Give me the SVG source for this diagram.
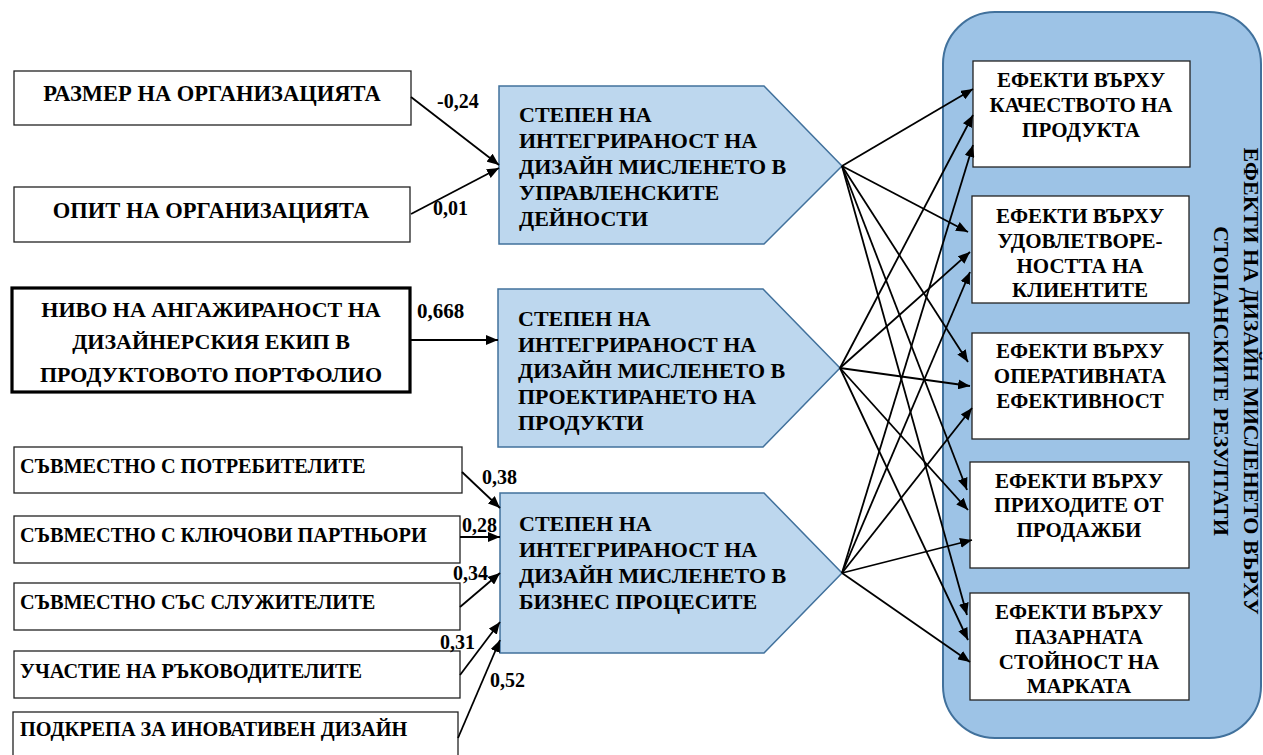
<svg xmlns="http://www.w3.org/2000/svg" width="1263" height="755" viewBox="0 0 1263 755">
<defs>
<marker id="ah" markerUnits="userSpaceOnUse" markerWidth="13" markerHeight="10" refX="12" refY="5" orient="auto">
<path d="M0,0 L12,5 L0,10 z" fill="#000"/>
</marker>
<style>
text{font-family:'Liberation Serif',serif;font-weight:bold;fill:#000}
.box{fill:#fff;stroke:#222;stroke-width:1.3}
.pent{fill:#BDD7EE;stroke:#41719C;stroke-width:1.5}
.c{stroke:#000;stroke-width:1.8;fill:none;marker-end:url(#ah)}
.lt{font-size:22.5px}
.nt{font-size:22px}
.bt{font-size:20.3px}
.pt{font-size:22px}
.rt{font-size:21px;text-anchor:middle}
.lab{font-size:20px}
.mid{text-anchor:middle}
</style>
</defs>
<rect width="1263" height="755" fill="#fff"/>
<g id="results-group">
<rect x="943" y="12" width="318" height="726" rx="52" fill="#9DC3E6" stroke="#41719C" stroke-width="2"/>
<g transform="translate(1229,381) rotate(90)">
<text class="mid" x="0" y="-15" style="font-size:22px">ЕФЕКТИ НА ДИЗАЙН МИСЛЕНЕТО ВЪРХУ</text>
<text class="mid" x="0" y="15" style="font-size:22px">СТОПАНСКИТЕ РЕЗУЛТАТИ</text>
</g>
</g>
<g id="n-size"><rect class="box" x="14" y="71" width="397" height="54"/><text class="lt mid" x="212" y="101">РАЗМЕР НА ОРГАНИЗАЦИЯТА</text></g>
<g id="n-exp"><rect class="box" x="14" y="187" width="396" height="55"/><text class="lt mid" x="211" y="218">ОПИТ НА ОРГАНИЗАЦИЯТА</text></g>
<g id="n-level"><rect x="12" y="288" width="398" height="104" fill="#fff" stroke="#000" stroke-width="3.2"/>
<text class="nt mid" x="211" y="317">НИВО НА АНГАЖИРАНОСТ НА</text>
<text class="nt mid" x="211" y="349">ДИЗАЙНЕРСКИЯ ЕКИП В</text>
<text class="nt mid" x="211" y="382">ПРОДУКТОВОТО ПОРТФОЛИО</text></g>
<g id="n-cons"><rect class="box" x="14" y="447" width="448" height="46"/><text class="bt" x="20" y="473">СЪВМЕСТНО С ПОТРЕБИТЕЛИТЕ</text></g>
<g id="n-part"><rect class="box" x="14" y="516" width="446" height="47"/><text class="bt" x="20" y="542">СЪВМЕСТНО С КЛЮЧОВИ ПАРТНЬОРИ</text></g>
<g id="n-empl"><rect class="box" x="14" y="583" width="446" height="47"/><text class="bt" x="20" y="609">СЪВМЕСТНО СЪС СЛУЖИТЕЛИТЕ</text></g>
<g id="n-mgr"><rect class="box" x="14" y="651" width="446" height="47"/><text class="bt" x="20" y="678">УЧАСТИЕ НА РЪКОВОДИТЕЛИТЕ</text></g>
<g id="n-supp"><rect class="box" x="13" y="712" width="445" height="60"/><text class="bt" x="20" y="736">ПОДКРЕПА ЗА ИНОВАТИВЕН ДИЗАЙН</text></g>
<g id="p-mgmt"><path class="pent" d="M499,86 L764,86 L842,166 L764,244 L499,244 Z"/>
<text class="pt" x="519" y="122">СТЕПЕН НА</text>
<text class="pt" x="519" y="148">ИНТЕГРИРАНОСТ НА</text>
<text class="pt" x="519" y="174">ДИЗАЙН МИСЛЕНЕТО В</text>
<text class="pt" x="519" y="200">УПРАВЛЕНСКИТЕ</text>
<text class="pt" x="519" y="226">ДЕЙНОСТИ</text></g>
<g id="p-prod"><path class="pent" d="M498,289 L763,289 L840,368 L763,447 L498,447 Z"/>
<text class="pt" x="518" y="326">СТЕПЕН НА</text>
<text class="pt" x="518" y="352">ИНТЕГРИРАНОСТ НА</text>
<text class="pt" x="518" y="378">ДИЗАЙН МИСЛЕНЕТО В</text>
<text class="pt" x="518" y="404">ПРОЕКТИРАНЕТО НА</text>
<text class="pt" x="518" y="430">ПРОДУКТИ</text></g>
<g id="p-bus"><path class="pent" d="M500,493 L764,493 L842,573 L764,653 L500,653 Z"/>
<text class="pt" x="519" y="531">СТЕПЕН НА</text>
<text class="pt" x="519" y="557">ИНТЕГРИРАНОСТ НА</text>
<text class="pt" x="519" y="583">ДИЗАЙН МИСЛЕНЕТО В</text>
<text class="pt" x="519" y="609">БИЗНЕС ПРОЦЕСИТЕ</text></g>
<g id="r1"><rect class="box" x="973" y="61" width="217" height="106"/>
<text class="rt" x="1081" y="87">ЕФЕКТИ ВЪРХУ</text><text class="rt" x="1081" y="112">КАЧЕСТВОТО НА</text><text class="rt" x="1081" y="137">ПРОДУКТА</text></g>
<g id="r2"><rect class="box" x="972" y="196" width="217" height="107"/>
<text class="rt" x="1080" y="223">ЕФЕКТИ ВЪРХУ</text><text class="rt" x="1080" y="248">УДОВЛЕТВОРЕ-</text><text class="rt" x="1080" y="273">НОСТТА НА</text><text class="rt" x="1080" y="297">КЛИЕНТИТЕ</text></g>
<g id="r3"><rect class="box" x="972" y="333" width="217" height="106"/>
<text class="rt" x="1080" y="358">ЕФЕКТИ ВЪРХУ</text><text class="rt" x="1080" y="383">ОПЕРАТИВНАТА</text><text class="rt" x="1080" y="408">ЕФЕКТИВНОСТ</text></g>
<g id="r4"><rect class="box" x="970" y="462" width="219" height="106"/>
<text class="rt" x="1079" y="488">ЕФЕКТИ ВЪРХУ</text><text class="rt" x="1079" y="512">ПРИХОДИТЕ ОТ</text><text class="rt" x="1079" y="537">ПРОДАЖБИ</text></g>
<g id="r5"><rect class="box" x="970" y="593" width="219" height="107"/>
<text class="rt" x="1079" y="619">ЕФЕКТИ ВЪРХУ</text><text class="rt" x="1079" y="644">ПАЗАРНАТА</text><text class="rt" x="1079" y="669">СТОЙНОСТ НА</text><text class="rt" x="1079" y="693">МАРКАТА</text></g>
<g id="connectors">
<line class="c" x1="411" y1="97" x2="499" y2="165"/>
<line class="c" x1="411" y1="214" x2="499" y2="168"/>
<line class="c" x1="410" y1="340" x2="498" y2="340"/>
<line class="c" x1="462" y1="472" x2="500" y2="508"/>
<line class="c" x1="460" y1="537" x2="500" y2="537"/>
<line class="c" x1="460" y1="607" x2="500" y2="573"/>
<line class="c" x1="460" y1="675" x2="500" y2="622"/>
<line class="c" x1="458" y1="738" x2="500" y2="640"/>
<line class="c" x1="842" y1="166" x2="973" y2="89"/>
<line class="c" x1="842" y1="166" x2="968" y2="232"/>
<line class="c" x1="842" y1="166" x2="968" y2="362"/>
<line class="c" x1="842" y1="166" x2="967" y2="490"/>
<line class="c" x1="842" y1="166" x2="967" y2="615"/>
<line class="c" x1="840" y1="368" x2="973" y2="115"/>
<line class="c" x1="840" y1="368" x2="970" y2="252"/>
<line class="c" x1="840" y1="368" x2="970" y2="386"/>
<line class="c" x1="840" y1="368" x2="968" y2="510"/>
<line class="c" x1="840" y1="368" x2="968" y2="640"/>
<line class="c" x1="842" y1="573" x2="973" y2="145"/>
<line class="c" x1="842" y1="573" x2="970" y2="272"/>
<line class="c" x1="842" y1="573" x2="972" y2="408"/>
<line class="c" x1="842" y1="573" x2="972" y2="540"/>
<line class="c" x1="842" y1="573" x2="970" y2="662"/>
<text class="lab" x="437" y="108">-0,24</text>
<text class="lab" x="433" y="215">0,01</text>
<text class="lab" x="417" y="318" style="font-size:21px">0,668</text>
<text class="lab" x="482" y="484">0,38</text>
<text class="lab" x="462" y="532">0,28</text>
<text class="lab" x="453" y="580">0,34</text>
<text class="lab" x="440" y="649">0,31</text>
<text class="lab" x="490" y="687">0,52</text>
</g>
</svg>
